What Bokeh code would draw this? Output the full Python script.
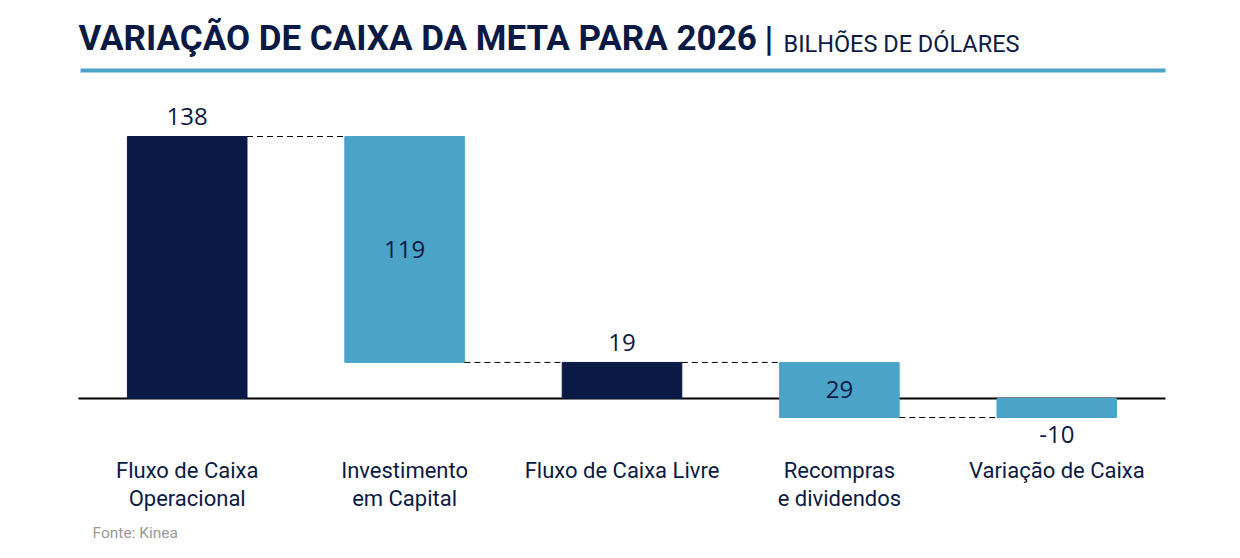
import numpy as np
from bokeh.plotting import figure
from bokeh.models import Range1d, Label, BoxAnnotation, ColumnDataSource
from bokeh.core.properties import value
from bokeh.embed import file_html
from bokeh.resources import INLINE

# ---- data ----
categories = ["Fluxo de Caixa\nOperacional", "Investimento\nem Capital", "Fluxo de Caixa Livre",
              "Recompras\ne dividendos", "Variação de Caixa"]
kinds = ["total", "change", "total", "change", "total"]
amounts = [138, -119, 19, -29, -10]
value_labels = ["138", "119", "19", "29", "-10"]

NAVY = "#0a1a45"
BLUE = "#4ba4c8"

# ---- waterfall geometry from data ----
bottoms, tops, levels = [], [], []
running = 0
for k, a in zip(kinds, amounts):
    if k == "total":
        b, t = 0, a
        running = a
    else:
        b, t = running, running + a
        running += a
    bottoms.append(min(b, t))
    tops.append(max(b, t))
    levels.append(running)

n = len(categories)
xs = np.arange(n) + 0.5
W = 0.55
colors = [NAVY if a > 0 else BLUE for a in amounts]

lab_y, lab_off = [], []
for k, a, b, t in zip(kinds, amounts, bottoms, tops):
    if k == "change":
        lab_y.append((b + t) / 2); lab_off.append(0)
    elif a >= 0:
        lab_y.append(t); lab_off.append(-20)
    else:
        lab_y.append(b); lab_off.append(17)

src = ColumnDataSource(dict(x=xs, bottom=bottoms, top=tops, color=colors,
                            ly=lab_y, loff=lab_off, lab=value_labels, cat=categories,
                            zero=[0] * n))

# ---- layout (pixels) ----
FW, FH = 1230, 552
PLOT_L, PLOT_R = 78, 1165        # extent of categories
ZERO_Y, TOP_Y = 398, 136         # pixel rows of 0 and of max value
px_cat = (PLOT_R - PLOT_L) / n
px_val = (ZERO_Y - TOP_Y) / max(tops)
x_rng = Range1d(-PLOT_L / px_cat, n + (FW - PLOT_R) / px_cat)
y_rng = Range1d(-(FH - ZERO_Y) / px_val, ZERO_Y / px_val)

p = figure(width=FW, height=FH, output_backend="svg", toolbar_location=None,
           x_range=x_rng, y_range=y_rng, min_border=0)
p.outline_line_color = None
p.grid.visible = False
p.axis.visible = False
p.background_fill_color = "white"

# zero line under bars
p.segment(x0=[0], y0=[0], x1=[n], y1=[0], line_color="black", line_width=2)

p.vbar(x="x", bottom="bottom", top="top", width=W, color="color", source=src)

cx0 = xs[:-1] + W / 2
cx1 = xs[1:] - W / 2
cy = levels[:-1]
p.segment(x0=cx0, y0=cy, x1=cx1, y1=cy, line_color="black", line_width=1, line_dash="6 4")

p.text(x="x", y="ly", text="lab", y_offset="loff", source=src, text_align="center",
       text_baseline="middle", text_font=value("Open Sans"), text_font_size="24px", text_color=NAVY)

# category labels
p.text(x="x", y="zero", text="cat", y_offset=59, source=src, text_align="center",
       text_baseline="top", text_font=value("Roboto"), text_font_size="22px", text_color=NAVY,
       text_line_height=1.12)


def top_label(x, baseline, size, text, **kw):
    # place a label by the pixel row of its baseline, counted from the top
    p.add_layout(Label(x=x, y=FH - (baseline - 0.36 * size), x_units="screen", y_units="screen",
                       text=text, text_font="Roboto", text_font_size=f"{size}px",
                       text_baseline="alphabetic", **kw))


top_label(78, 51, 35, "VARIAÇÃO DE CAIXA DA META PARA 2026", text_font_style="bold", text_color=NAVY)
top_label(764, 52, 35, "|", text_font_style="bold", text_color=NAVY)
top_label(783, 51.7, 23.5, "BILHÕES DE DÓLARES", text_color=NAVY)
top_label(92, 538, 15.5, "Fonte: Kinea", text_color="#999999")

p.add_layout(BoxAnnotation(left=80, right=1165, bottom=FH - 72, top=FH - 68, left_units="screen",
                           right_units="screen", bottom_units="screen", top_units="screen",
                           fill_color=BLUE, fill_alpha=1, line_color=None))

open("out.html", "w").write(file_html(p, INLINE))
